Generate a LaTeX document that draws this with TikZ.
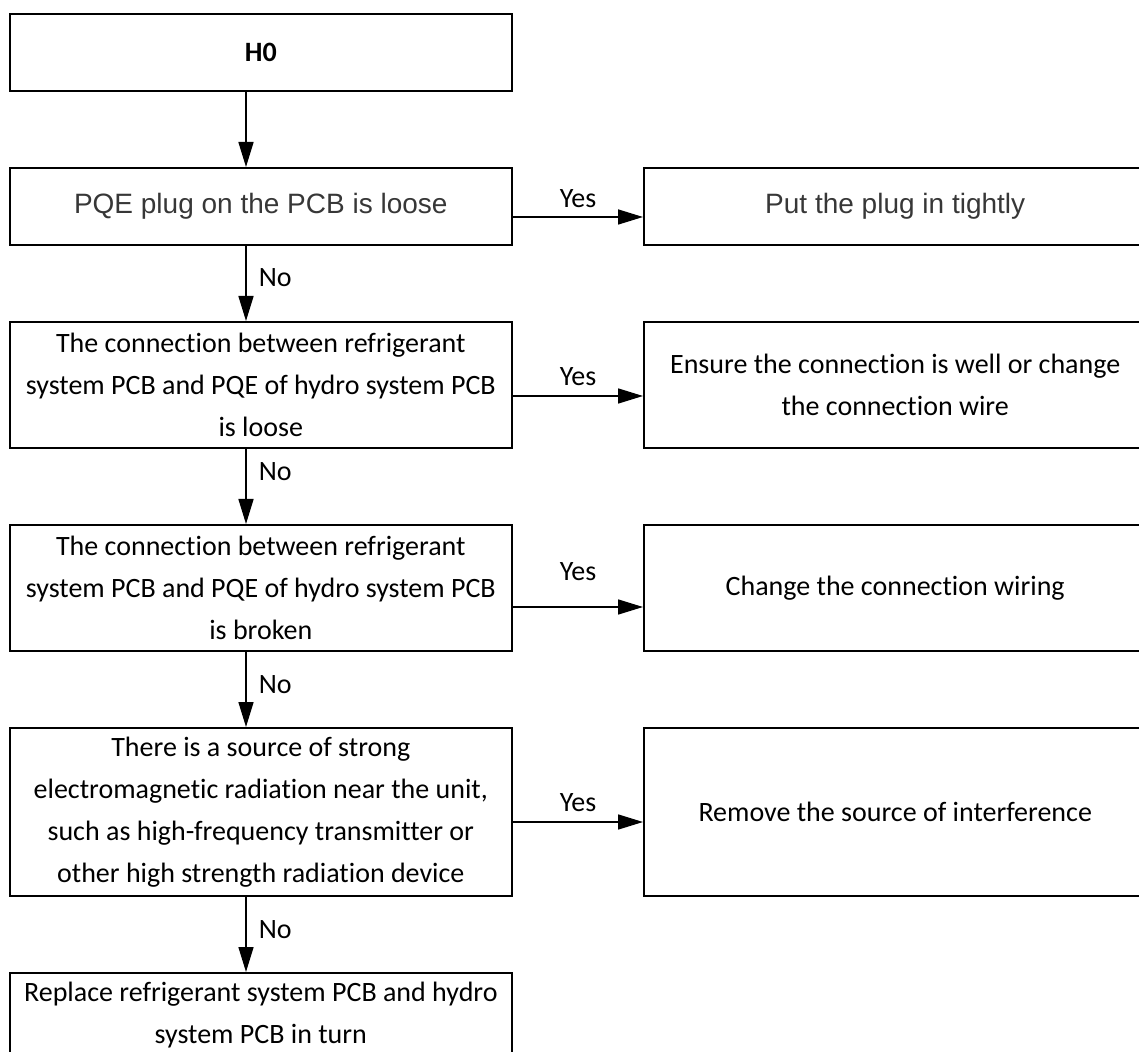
\documentclass[tikz,border=0pt]{standalone}
\usepackage{fontspec}
\setmainfont{Carlito}[Ligatures={NoCommon}]
\newfontfamily\arialfont{Liberation Sans}
\usetikzlibrary{arrows.meta}
\definecolor{plugtext}{RGB}{55,55,55}
\begin{document}
\begin{tikzpicture}[x=0.5pt,y=-0.5pt,
  box/.style={draw, line width=1pt, minimum width=251.2pt, align=center,
    inner sep=0pt, font=\fontsize{14}{21}\selectfont},
  arialbox/.style={box, text=plugtext, font=\arialfont\fontsize{14}{21}\selectfont},
  flow/.style={line width=0.8pt, -{Triangle[length=12.5pt,width=7.5pt]}},
  lbl/.style={font=\fontsize{14}{16}\selectfont, inner sep=0pt}]
\useasboundingbox (0,0) rectangle (1139,1052);
\clip (0,0) rectangle (1139,1052);

% main column of checks
\node[box, minimum height=38.5pt] (h0) at (260.8,52.5) {\textbf{H0}};
\node[arialbox, minimum height=38.5pt] (plug) at (260.8,206.5)
  {PQE plug on the PCB is loose};
\node[box, minimum height=63pt] (loose) at (260.8,385)
  {The connection between refrigerant\\system PCB and PQE of hydro system PCB\\is loose};
\node[box, minimum height=63pt] (broken) at (260.8,588)
  {The connection between refrigerant\\system PCB and PQE of hydro system PCB\\is broken};
\node[box, minimum height=84pt] (emi) at (260.8,812)
  {There is a source of strong\\electromagnetic radiation near the unit,\\such as high-frequency transmitter or\\other high strength radiation device};
\node[box, minimum height=42pt] (replace) at (260.8,1015)
  {Replace refrigerant system PCB and hydro\\system PCB in turn};

% remedies
\node[arialbox, minimum height=38.5pt] (tight) at (895.2,206.5)
  {Put the plug in tightly};
\node[box, minimum height=63pt] (ensure) at (895.2,385)
  {Ensure the connection is well or change\\the connection wire};
\node[box, minimum height=63pt] (rewire) at (895.2,588)
  {Change the connection wiring};
\node[box, minimum height=84pt] (remove) at (895.2,812)
  {Remove the source of interference};

% "No" path down the main column
\draw[flow] ([xshift=-7.4pt]h0.south) -- ([xshift=-7.4pt]plug.north);
\draw[flow] ([xshift=-7.4pt]plug.south) -- ([xshift=-7.4pt]loose.north)
  node[lbl, midway, right=6pt, yshift=2.75pt] {No};
\draw[flow] ([xshift=-7.4pt]loose.south) -- ([xshift=-7.4pt]broken.north)
  node[lbl, midway, right=6pt, yshift=7.25pt] {No};
\draw[flow] ([xshift=-7.4pt]broken.south) -- ([xshift=-7.4pt]emi.north)
  node[lbl, midway, right=6pt, yshift=2.25pt] {No};
\draw[flow] ([xshift=-7.4pt]emi.south) -- ([xshift=-7.4pt]replace.north)
  node[lbl, midway, right=6pt, yshift=2.25pt] {No};

% "Yes" branches to the remedies
\draw[flow] ([yshift=-5.25pt]plug.east) -- ([yshift=-5.25pt]tight.west)
  node[lbl, midway, yshift=9pt] {Yes};
\draw[flow] ([yshift=-5.5pt]loose.east) -- ([yshift=-5.5pt]ensure.west)
  node[lbl, midway, yshift=9.5pt] {Yes};
\draw[flow] ([yshift=-9.5pt]broken.east) -- ([yshift=-9.5pt]rewire.west)
  node[lbl, midway, yshift=17.5pt] {Yes};
\draw[flow] ([yshift=-5pt]emi.east) -- ([yshift=-5pt]remove.west)
  node[lbl, midway, yshift=9.5pt] {Yes};
\end{tikzpicture}
\end{document}
